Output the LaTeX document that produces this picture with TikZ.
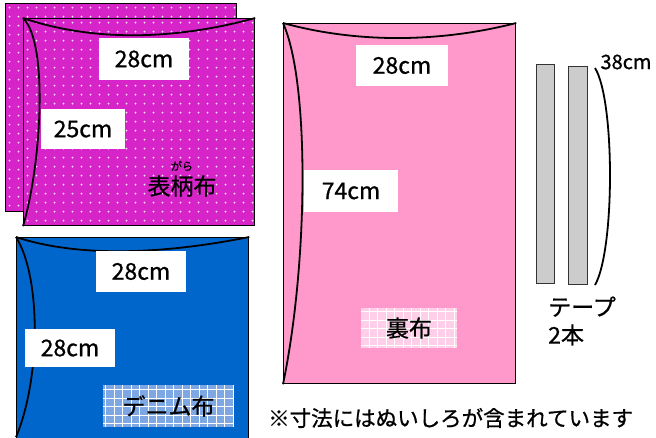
\documentclass[tikz,border=0pt]{standalone}
\usepackage{fontspec}
\setmainfont{Noto Sans CJK JP}[FakeBold=0.8]
\usetikzlibrary{calc}

\definecolor{gara}{RGB}{214,36,200}
\definecolor{denim}{RGB}{0,102,204}
\definecolor{ura}{RGB}{255,153,204}
\definecolor{tapegray}{RGB}{204,204,204}
\definecolor{denimlt}{RGB}{125,168,228}
\definecolor{uralt}{RGB}{255,206,232}

\begin{document}
\begin{tikzpicture}[x=1pt, y=-1pt,
	nuno/.style={draw, line width=1.2pt, inner sep=0pt, anchor=north west},
	fold/.style={line width=1.8pt},
	sunpo/.style={fill=white, inner sep=0pt, font=\fontsize{23}{23}\selectfont},
	meisho/.style={font=\fontsize{23}{23}\selectfont},
	mizutama/.style={path picture={
		\foreach \i in {0,...,26} \foreach \j in {0,...,23} {
			\fill[white!90!gara] ($(path picture bounding box.north west)+(4+9*\i,4+9*\j)$) circle (1pt);
		}}},
	koushi/.style={inner sep=0pt, path picture={
		\draw[white, line width=0.5pt, step=8.5pt] (path picture bounding box.south west) grid (path picture bounding box.north east);}}
	]
	\useasboundingbox (0,0) rectangle (656,437);
	% omotegara nuno, 2 mai
	\node [nuno, fill=gara, mizutama, minimum width=231pt, minimum height=208pt] (gara2) at (5,3) {};
	\node [nuno, fill=gara, mizutama, minimum width=231pt, minimum height=207pt] (gara1) at (23,18) {};
	\draw [fold] (gara1.north west) .. controls +(70,24) and +(-80,22) .. (gara1.north east);
	\draw [fold] (gara1.north west) .. controls +(26,25) and +(18,-60) .. (gara1.south west);
	\node [sunpo, minimum width=90pt, minimum height=42pt] (garaw) at (144,59) {28cm};
	\node [sunpo, minimum width=84pt, minimum height=40pt] (garah) at (83,129) {25cm};
	\node [meisho] (garaname) at (182,186) {表柄布};
	\node [font=\fontsize{11}{11}\selectfont, inner sep=0pt] (gararuby) at (182,166) {がら};
	% denim
	\node [nuno, fill=denim, minimum width=232pt, minimum height=203pt] (denim) at (16,237) {};
	\draw [fold] (denim.north west) .. controls +(60,20) and +(-90,18) .. (denim.north east);
	\draw [fold] (denim.north west) .. controls +(25,40) and +(25,-60) .. ($(denim.south west)+(0,-4)$);
	\node [sunpo, minimum width=90pt, minimum height=41pt] (denimw) at (141,271.5) {28cm};
	\node [sunpo, minimum width=90pt, minimum height=38pt] (denimh) at (70,348) {28cm};
	\node [meisho, koushi, fill=denimlt, minimum width=131pt, minimum height=42pt] (denimname) at (168.5,406) {デニム布};
	% uranuno
	\node [nuno, fill=ura, minimum width=232pt, minimum height=360pt] (ura) at (283,23) {};
	\draw [fold] (ura.north west) .. controls +(80,22) and +(-70,18) .. (ura.north east);
	\draw [fold] (ura.north west) .. controls +(27,60) and +(25,-120) .. (ura.south west);
	\node [sunpo, minimum width=92pt, minimum height=41pt] (uraw) at (402,65.5) {28cm};
	\node [sunpo, minimum width=94pt, minimum height=42pt] (urah) at (351,191) {74cm};
	\node [meisho, koushi, fill=uralt, minimum width=96pt, minimum height=40pt] (uraname) at (409,328) {裏布};
	% tape
	\node [nuno, draw=black!80, fill=tapegray, minimum width=18pt, minimum height=219pt] (tape1) at (536,64) {};
	\node [nuno, draw=black!80, fill=tapegray, minimum width=19pt, minimum height=218pt] (tape2) at (568,66) {};
	\coordinate (kakko1) at (595,68);
	\coordinate (kakko2) at (595,285);
	\draw [fold] (kakko1) .. controls (615,100) and (615,250) .. (kakko2);
	\node [font=\fontsize{20}{20}\selectfont, inner sep=0pt] (tapelen) at (626,62) {38cm};
	\node [font=\fontsize{23}{28}\selectfont, align=left, anchor=west, inner sep=0pt] (tapename) at (548,321) {テープ\\2本};
	% chuui
	\node [font=\fontsize{21.5}{22}\selectfont, anchor=west, inner sep=0pt] (chuui) at (268,418) {※寸法にはぬいしろが含まれています};
\end{tikzpicture}
\end{document}
